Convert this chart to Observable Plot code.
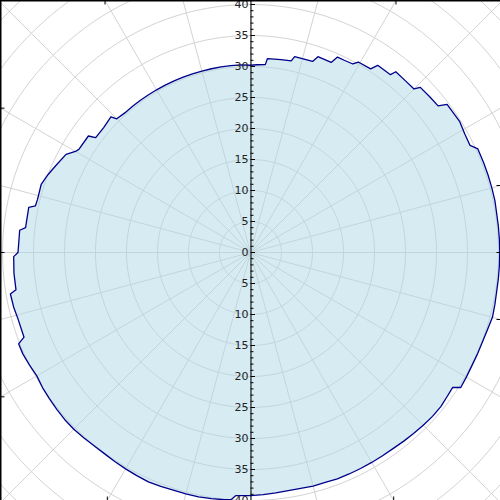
<!DOCTYPE html>
<html>
<head>
<meta charset="utf-8">
<script src="https://cdn.jsdelivr.net/npm/d3@7"></script>
<script src="https://cdn.jsdelivr.net/npm/@observablehq/plot@0.6"></script>
<style>
  html, body { margin: 0; padding: 0; background: white; }
  #chart svg { display: block; }
</style>
</head>
<body>
<div id="chart"></div>
<script>
// Angles (degrees, counter-clockwise from east) of the outline samples
const angles = [
  0, 3, 6, 9, 12, 15, 18, 21, 24.5, 26, 29, 32, 37, 38, 41, 44.2, 45, 48, 51.2, 51.8,
  55.8, 56.8, 60.5, 61.5, 64, 66, 67, 71, 72, 77.3, 78, 81, 85, 85.5, 88, 90,
  93, 96, 99, 102, 105, 108, 111, 114, 117, 120, 123, 126, 129, 132, 135, 135.8,
  139.6, 143.4, 144.3, 149, 150, 152, 156, 159, 162, 166, 167.8, 168.5, 173.7, 174.5, 180, 181,
  185, 189, 189.8, 193, 196, 200.5, 201.5, 204, 207, 210, 213, 216, 219, 222, 225, 228,
  231, 234, 237, 240, 243, 246, 249, 252, 255, 258, 261, 264, 265.5, 266.5, 270, 273,
  276, 279, 282, 285, 288, 291, 294, 297, 300, 303, 306, 309, 312, 315, 318, 321,
  324, 326.3, 327.3, 330, 333, 336, 339, 342, 345, 348, 351, 354, 357
];
// Radius read at each angle
const radii = [
  40.2, 40.2, 40.2, 40.2, 40.3, 40.3, 40.3, 40.3, 40.3, 39.4, 39.5, 39.8, 39.7, 38.4, 38.3, 38.2, 37.3, 37.3, 37.4, 36.5,
  36.5, 35.4, 35.3, 34.6, 34.5, 34.5, 33.3, 33.4, 32.4, 32.4, 31.6, 31.5, 31.4, 30.4, 30.3, 30.2,
  30.3, 30.3, 30.3, 30.3, 30.3, 30.3, 30.3, 30.3, 30.3, 30.3, 30.3, 30.3, 30.3, 30.3, 30.5, 31.4,
  31.1, 31.1, 32.2, 32.3, 32.6, 33.7, 34.4, 35.0, 35.5, 35.4, 35.5, 36.5, 36.5, 37.4, 37.5, 38.2,
  38.3, 38.3, 39.3, 39.2, 39.0, 39.0, 40.2, 40.2, 40.0, 39.8, 40.0, 40.1, 40.2, 40.3, 40.3, 40.2,
  40.1, 40.1, 40.2, 40.3, 40.4, 40.5, 40.4, 40.3, 40.3, 40.3, 40.2, 40.1, 40.0, 39.3, 39.2, 39.1,
  39.0, 38.9, 38.9, 39.0, 39.0, 39.1, 39.1, 39.1, 39.1, 39.1, 39.1, 39.2, 39.3, 39.4, 39.5, 39.5,
  39.3, 39.2, 40.3, 40.2, 40.1, 40.1, 40.1, 40.2, 40.4, 40.3, 40.2, 40.2, 40.2
];
// Radial grid rings and angular spokes
const ringRadii = [5, 10, 15, 20, 25, 30, 35, 40, 45, 50, 55, 60];
const spokeAngles = [0, 15, 30, 45, 60, 75, 90, 105, 120, 135, 150, 165, 180, 195, 210, 225, 240, 255, 270, 285, 300, 315, 330, 345];
// Radial axis tick values (signed: positive above centre, negative below)
const majorTicks = [-40, -35, -30, -25, -20, -15, -10, -5, 0, 5, 10, 15, 20, 25, 30, 35, 40];
const tickLabels = ["40", "35", "30", "25", "20", "15", "10", "5", "0", "5", "10", "15", "20", "25", "30", "35", "40"];
// Angles of the small ticks on the plot frame
const frameTickAngles = [0, 15, 60, 120, 150, 180, 210, 240, 300, 345];

// ---- layout ----
const W = 500, H = 500;
const pxPerUnit = 6.2;
const cx = 250, cy = 252;
const xDom = [-cx / pxPerUnit, (W - cx) / pxPerUnit];
const yDom = [-(H - cy) / pxPerUnit, cy / pxPerUnit];
const rad = d => d * Math.PI / 180;
const px = v => v / pxPerUnit; // pixels -> data units

const minorTicks = d3.range(-40, 41, 1).filter(v => v % 5 !== 0);

const ringPts = [];
for (const R of ringRadii) {
  for (let a = 0; a <= 360; a += 2) ringPts.push({ring: R, x: R * Math.cos(rad(a)), y: R * Math.sin(rad(a))});
}

const outline = angles.map((a, i) => ({x: radii[i] * Math.cos(rad(a)), y: radii[i] * Math.sin(rad(a))}));

// where a ray from the centre meets the frame
function frameHit(a) {
  const c = Math.cos(rad(a)), s = Math.sin(rad(a));
  let best = Infinity, nx = 0, ny = 0;
  if (c > 1e-9) { const t = xDom[1] / c; if (t < best) { best = t; nx = -1; ny = 0; } }
  if (c < -1e-9) { const t = xDom[0] / c; if (t < best) { best = t; nx = 1; ny = 0; } }
  if (s > 1e-9) { const t = yDom[1] / s; if (t < best) { best = t; nx = 0; ny = -1; } }
  if (s < -1e-9) { const t = yDom[0] / s; if (t < best) { best = t; nx = 0; ny = 1; } }
  return {x: best * c, y: best * s, nx, ny};
}
const frameTicks = frameTickAngles.map(frameHit);

const chart = Plot.plot({
  width: W,
  height: H,
  margin: 0,
  x: {domain: xDom, axis: null},
  y: {domain: yDom, axis: null},
  style: {background: "white", fontFamily: "DejaVu Sans, sans-serif", overflow: "hidden"},
  marks: [
    Plot.line(ringPts, {x: "x", y: "y", z: "ring", stroke: "#d3d3d3", strokeWidth: 1, clip: true}),
    Plot.link(spokeAngles, {
      x1: 0, y1: 0,
      x2: a => 60 * Math.cos(rad(a)), y2: a => 60 * Math.sin(rad(a)),
      stroke: "#d3d3d3", strokeWidth: 1, clip: true
    }),
    Plot.line(outline, {
      x: "x", y: "y", curve: "linear-closed",
      fill: "lightblue", fillOpacity: 0.5,
      stroke: "#00008b", strokeWidth: 1.3, clip: true
    }),
    // radial axis
    Plot.ruleX([0], {stroke: "black", strokeWidth: 1, dx: 0.5}),
    Plot.ruleY(majorTicks, {y: d => d, x1: 0, x2: px(4.5), stroke: "black", strokeWidth: 1, dx: 0.5}),
    Plot.ruleY(minorTicks, {y: d => d, x1: 0, x2: px(3), stroke: "black", strokeWidth: 1, dx: 0.5}),
    Plot.text(majorTicks, {
      x: 0, y: d => d, text: (d, i) => tickLabels[i],
      textAnchor: "end", dx: -2, fontSize: 11, fill: "#222"
    }),
    // frame edges (left and top visible)
    Plot.ruleX([xDom[0]], {stroke: "black", strokeWidth: 2}),
    Plot.ruleY([yDom[1]], {stroke: "black", strokeWidth: 2}),
    Plot.link(frameTicks, {
      x1: d => d.x, y1: d => d.y,
      x2: d => d.x + d.nx * px(4), y2: d => d.y + d.ny * px(4),
      stroke: "black", strokeWidth: 1
    })
  ]
});
document.getElementById("chart").appendChild(chart);
</script>
</body>
</html>
